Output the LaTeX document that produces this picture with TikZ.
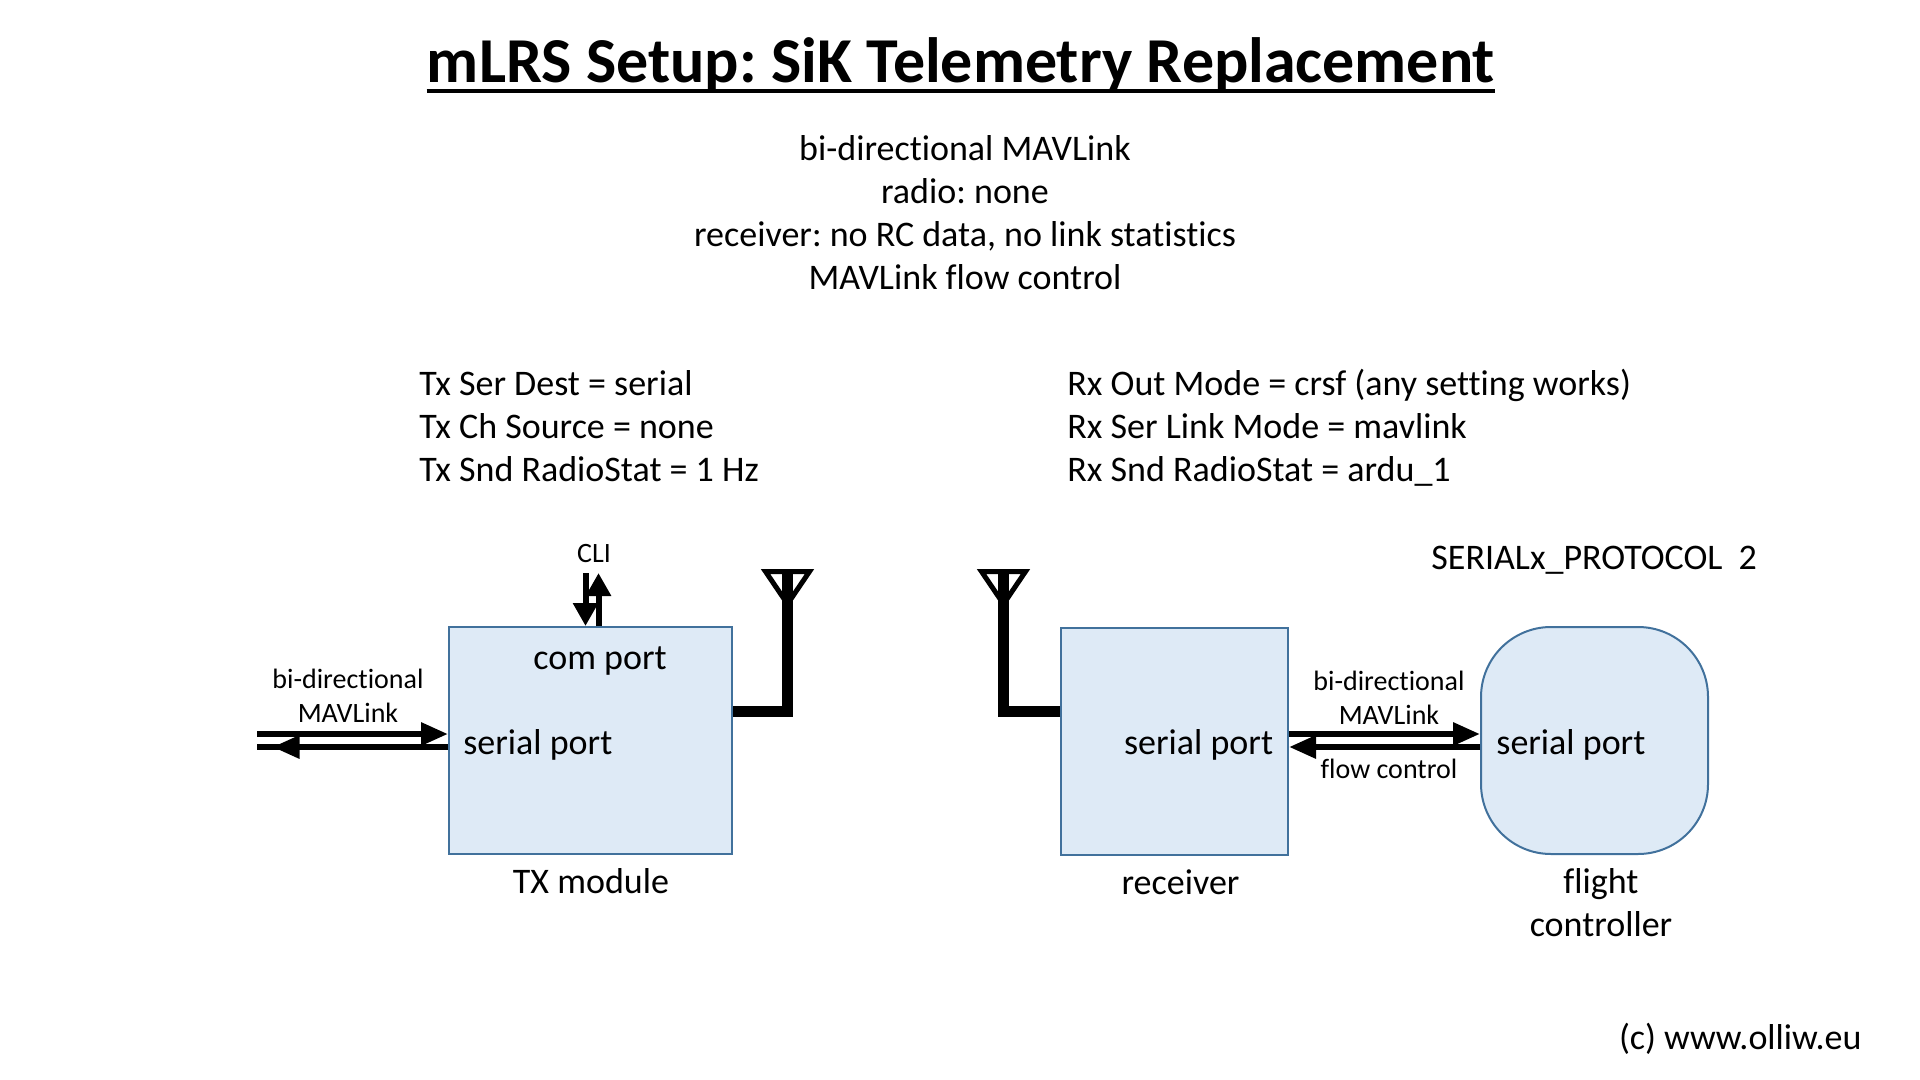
\documentclass[tikz,border=0pt]{standalone}
\usepackage{fontspec}
\setmainfont[Ligatures=NoCommon]{Carlito}
\frenchspacing
\usetikzlibrary{arrows.meta}
\definecolor{boxfill}{HTML}{DEEAF6}
\definecolor{boxline}{HTML}{41719C}
\tikzset{
    bigtxt/.style={inner sep=0,font=\fontsize{18}{21.5}\selectfont},
    smalltxt/.style={inner sep=0,font=\fontsize{14}{17}\selectfont},
    unitbox/.style={draw=boxline,fill=boxfill,line width=1pt,inner sep=0,minimum width=#1,minimum height=113.5pt},
    fatline/.style={line width=3pt},
    fatarrow/.style={line width=3pt,-{Triangle[length=13.5pt,width=11pt]}},
    cliline/.style={line width=3pt,-{Triangle[length=11.5pt,width=12pt]}},
    antline/.style={line width=5.5pt,miter limit=10},
    anttop/.style={line width=2.5pt,miter limit=10}
}
\begin{document}
\begin{tikzpicture}[x=0.5pt,y=-0.5pt]
    \useasboundingbox (0,0) rectangle (1920,1080);

    %%%%%%% Title %%%%%%%
    \node[inner sep=0,anchor=base,font=\fontsize{32}{38}\selectfont\bfseries] (title) at (961,83) {mLRS Setup: SiK Telemetry Replacement};
    \draw[line width=1.75pt] ([yshift=-4pt]title.base west) -- ([yshift=-4pt]title.base east);

    %%%%%%% Settings text %%%%%%%
    \node[bigtxt,align=center] (info) at (965,212.5) {bi-directional MAVLink\\radio: none\\receiver: no RC data, no link statistics\\MAVLink flow control};
    \node[bigtxt,align=left,anchor=west] (txset) at (419,426) {Tx Ser Dest = serial\\Tx Ch Source = none\\Tx Snd RadioStat = 1 Hz};
    \node[bigtxt,align=left,anchor=west] (rxset) at (1067,427.3) {Rx Out Mode = crsf (any setting works)\\Rx Ser Link Mode = mavlink\\Rx Snd RadioStat = ardu\_1};
    \node[bigtxt,anchor=west] (proto) at (1431,560.5) {SERIALx\_PROTOCOL\ \ 2};
    \node[bigtxt,anchor=east] (copy) at (1862,1039) {(c) www.olliw.eu};

    %%%%%%% Blocks %%%%%%%
    \node[unitbox=141.5pt] (txbox) at (590.5,740.5) {};
    \node[unitbox=113.5pt] (rxbox) at (1174.5,741.5) {};
    \node[unitbox=113.5pt,rounded corners=35pt] (fcbox) at (1594.5,740.5) {};

    %%%%%%% Block text %%%%%%%
    \node[bigtxt] (txcom) at (600,661) {com port};
    \node[bigtxt,anchor=west] (txser) at (463,744.5) {serial port};
    \node[bigtxt,anchor=east] (rxser) at (1273.5,744.5) {serial port};
    \node[bigtxt,anchor=west] (fcser) at (1496,744.5) {serial port};
    \node[bigtxt] (txname) at (591,881) {TX module};
    \node[bigtxt] (rxname) at (1180.5,882) {receiver};
    \node[bigtxt,align=center] (fcname) at (1601,903) {flight\\controller};

    %%%%%%% Link labels %%%%%%%
    \node[smalltxt] (cli) at (594,554) {CLI};
    \node[smalltxt,align=center] (txlink) at (348,696) {bi-directional\\MAVLink};
    \node[smalltxt,align=center] (rxlink) at (1389,698) {bi-directional\\MAVLink};
    \node[smalltxt] (flow) at (1389,769) {flow control};

    %%%%%%% Links %%%%%%%
    \coordinate (txleft) at (257,734);
    \coordinate (txright) at (257,747);
    \coordinate (txtip) at (272.5,747);
    \coordinate (clitop) at (585.5,573);
    \coordinate (clitwo) at (598.5,573);
    \draw[fatarrow] (txleft) -- (txleft -| txbox.west);
    \draw[fatline] (txright -| txbox.west) -- (txright);
    \draw[fatarrow] (txright -| txbox.west) -- (txtip);
    \draw[cliline] (clitop) -- (clitop |- txbox.north);
    \draw[cliline] (clitwo |- txbox.north) -- (clitwo);
    \draw[fatarrow] (txleft -| rxbox.east) -- (txleft -| fcbox.west);
    \draw[fatarrow] (txright -| fcbox.west) -- (txright -| rxbox.east);

    %%%%%%% Antennas %%%%%%%
    \foreach \x in {787.5,1003.5}
        \draw[anttop] (\x-22,571.5) -- (\x+22,571.5) -- (\x,604) -- cycle;
    \coordinate (txant) at (787.5,569);
    \coordinate (rxant) at (1003.5,569);
    \draw[antline] (txbox.east |- 0,711) -| (txant);
    \draw[antline] (rxbox.west |- 0,711) -| (rxant);
\end{tikzpicture}
\end{document}
